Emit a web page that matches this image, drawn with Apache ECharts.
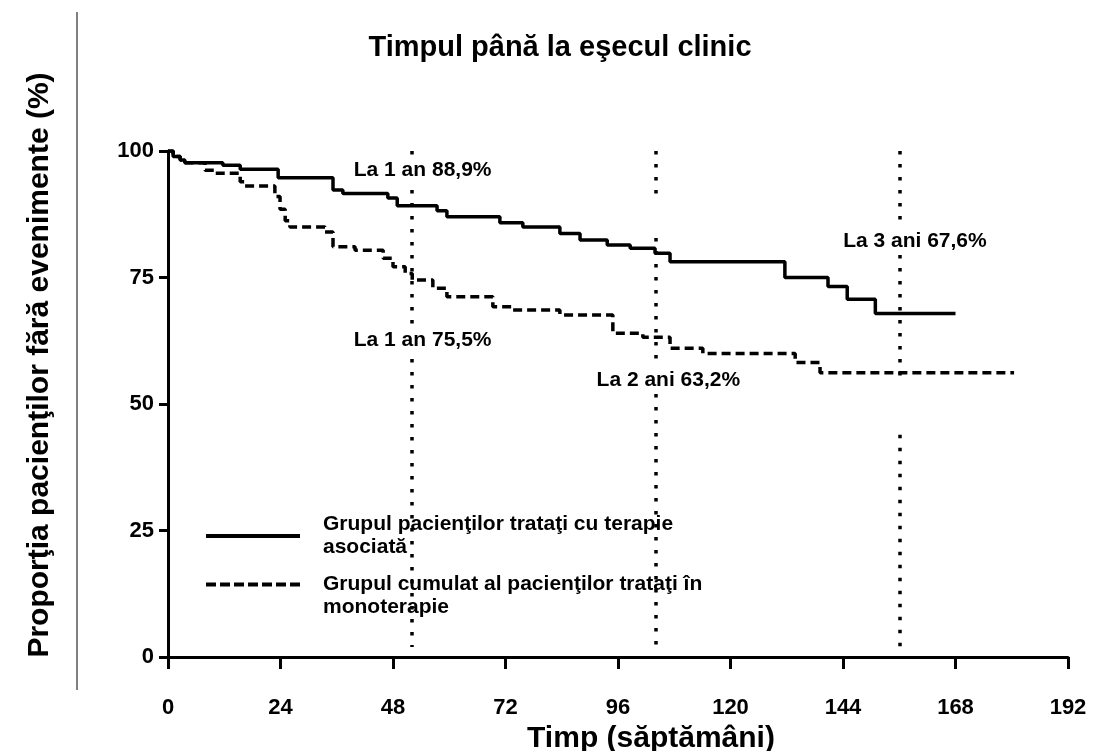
<!DOCTYPE html>
<html>
<head>
<meta charset="utf-8">
<script src="https://cdn.jsdelivr.net/npm/echarts@6/dist/echarts.min.js"></script>
<style>html,body{margin:0;padding:0;background:#fff}#c{width:1097px;height:751px}</style>
</head>
<body>
<div id="c"></div>
<script>
const titleText = 'Timpul până la eşecul clinic';
const xName = 'Timp (săptămâni)';
const yName = 'Proporţia pacienţilor fără evenimente (%)';
const seriesNames = ['Grupul pacienţilor trataţi cu terapie\nasociată', 'Grupul cumulat al pacienţilor trataţi în\nmonoterapie'];

const weeksSolid = [0, 1.1, 2.6, 3.6, 11.7, 15.4, 23.5, 35.2, 37.3, 46.9, 48.9, 57.4, 59.5, 70.8, 75.7, 83.6, 87.9, 93.7, 98.6, 103.9, 107.1, 131.6, 140.8, 144.9, 150.9, 168];
const survSolid  = [100, 98.9, 98.2, 97.7, 97.2, 96.4, 94.7, 92.3, 91.6, 90.7, 89.2, 88.2, 87.0, 85.8, 85.0, 83.7, 82.4, 81.4, 80.8, 79.8, 78.1, 75.0, 73.2, 70.7, 67.9, 67.9];

const weeksDashed = [0, 1.1, 2.6, 3.6, 7.9, 10.0, 15.4, 16.4, 22.8, 23.9, 25.0, 26.0, 33.5, 35.2, 39.9, 45.9, 48.0, 50.6, 52.1, 56.5, 59.5, 69.3, 73.6, 83.6, 94.9, 101.3, 107.1, 114.1, 133.8, 139.1, 180.5];
const survDashed  = [100, 98.9, 98.2, 97.7, 96.2, 95.6, 93.9, 93.1, 91.0, 88.5, 86.2, 85.0, 84.0, 81.1, 80.4, 78.8, 77.1, 75.8, 74.5, 72.9, 71.2, 69.2, 68.6, 67.6, 64.0, 63.2, 61.0, 60.0, 58.2, 56.2, 56.2];

const xTicks = [0, 24, 48, 72, 96, 120, 144, 168, 192];
const yTicks = [0, 25, 50, 75, 100];

// vertical reference lines: [week, fromValue, toValue]
const refSegments = [[52, 100, 2], [104, 100, 89.9], [104, 82.8, 2], [156, 100, 54.2], [156, 43.9, 2]];

const annTexts  = ['La 1 an 88,9%', 'La 1 an 75,5%', 'La 2 ani 63,2%', 'La 3 ani 67,6%'];
const annWeeks  = [39.2, 39.2, 91.0, 143.6];
const annValues = [96.2, 62.6, 54.7, 82.2];

const FONT = 'Liberation Sans, Arial, sans-serif';
const chart = echarts.init(document.getElementById('c'), null, {renderer: 'canvas'});

const zip = (a, b) => a.map((v, i) => [v, b[i]]);

const solidIcon = 'path://M0,0H94V4H0Z';
// dashes sit at the top of a taller icon box so they line up with the first text line
const dashedIcon = 'path://M0,0H10V4H0Z M14,0H24V4H14Z M28,0H38V4H28Z M42,0H52V4H42Z M56,0H66V4H56Z M70,0H80V4H70Z M84,0H94V4H84Z M0,26.99H0.01V27H0Z';

const legendBase = {
  orient: 'vertical', left: 206, itemWidth: 94, padding: 0
};
const legendText = {fontFamily: FONT, fontWeight: 'bold', fontSize: 21, color: '#000', lineHeight: 23, padding: [0, 0, 0, 18]};

const option = {
  backgroundColor: '#fff',
  animation: false,
  textStyle: {fontFamily: FONT, color: '#000'},
  title: {
    text: titleText, left: 555, top: 28, textAlign: 'center',
    textStyle: {fontFamily: FONT, fontWeight: 'bold', fontSize: 29, color: '#000'}
  },
  graphic: [{
    type: 'line', shape: {x1: 77, y1: 12, x2: 77, y2: 690},
    style: {stroke: '#000', lineWidth: 1}, silent: true
  }],
  legend: [
    Object.assign({}, legendBase, {
      top: 513, itemHeight: 4,
      textStyle: legendText,
      data: [{name: seriesNames[0], icon: solidIcon}]
    }),
    Object.assign({}, legendBase, {
      top: 573, itemHeight: 27,
      textStyle: legendText,
      data: [{name: seriesNames[1], icon: dashedIcon}]
    })
  ],
  grid: {left: 168, right: 29, top: 151, bottom: 94, containLabel: false, outerBoundsMode: 'none'},
  xAxis: {
    type: 'value', min: xTicks[0], max: xTicks[xTicks.length - 1], interval: 24,
    name: xName, nameLocation: 'middle', nameGap: 66,
    nameTextStyle: {fontFamily: FONT, fontWeight: 'bold', fontSize: 30, color: '#000', padding: [0, 0, 0, 66]},
    axisLine: {show: true, lineStyle: {color: '#000', width: 3}},
    axisTick: {show: true, length: 12, lineStyle: {color: '#000', width: 3}},
    axisLabel: {fontFamily: FONT, fontWeight: 'bold', fontSize: 22, color: '#000', margin: 40},
    splitLine: {show: false}
  },
  yAxis: {
    type: 'value', min: yTicks[0], max: yTicks[yTicks.length - 1], interval: 25,
    name: yName, nameLocation: 'middle', nameGap: 113,
    nameTextStyle: {fontFamily: FONT, fontWeight: 'bold', fontSize: 30, color: '#000', padding: [0, 0, 0, 78]},
    axisLine: {show: true, lineStyle: {color: '#000', width: 3}},
    axisTick: {show: true, length: 9, lineStyle: {color: '#000', width: 3}},
    axisLabel: {fontFamily: FONT, fontWeight: 'bold', fontSize: 22, color: '#000', margin: 14},
    splitLine: {show: false}
  },
  series: [
    {
      name: seriesNames[0], type: 'line', step: 'end', symbol: 'none', z: 3,
      data: zip(weeksSolid, survSolid),
      lineStyle: {color: '#000', width: 3.5, type: 'solid'},
      itemStyle: {color: '#000'}
    },
    {
      name: seriesNames[1], type: 'line', step: 'end', symbol: 'none', z: 3,
      data: zip(weeksDashed, survDashed),
      lineStyle: {color: '#000', width: 3.5, type: [9, 5]},
      itemStyle: {color: '#000'}
    },
    {
      name: 'ref', type: 'line', data: [], z: 2, silent: true,
      markLine: {
        silent: true, symbol: 'none', animation: false,
        label: {show: false},
        lineStyle: {color: '#000', width: 3.5, type: [3.5, 9.5]},
        emphasis: {disabled: true},
        data: refSegments.map(s => [{coord: [s[0], s[1]]}, {coord: [s[0], s[2]]}])
      }
    },
    {
      name: 'ann', type: 'line', data: [], z: 10, silent: true,
      markPoint: {
        symbol: 'circle', symbolSize: 0, silent: true, animation: false,
        label: {
          show: true, position: 'right', distance: 0,
          fontFamily: FONT, fontWeight: 'bold', fontSize: 21, color: '#000',
          backgroundColor: '#fff', padding: [2, 2],
          formatter: p => p.name
        },
        data: annTexts.map((t, i) => ({name: t, coord: [annWeeks[i], annValues[i]]}))
      }
    }
  ]
};
chart.setOption(option);
</script>
</body>
</html>
